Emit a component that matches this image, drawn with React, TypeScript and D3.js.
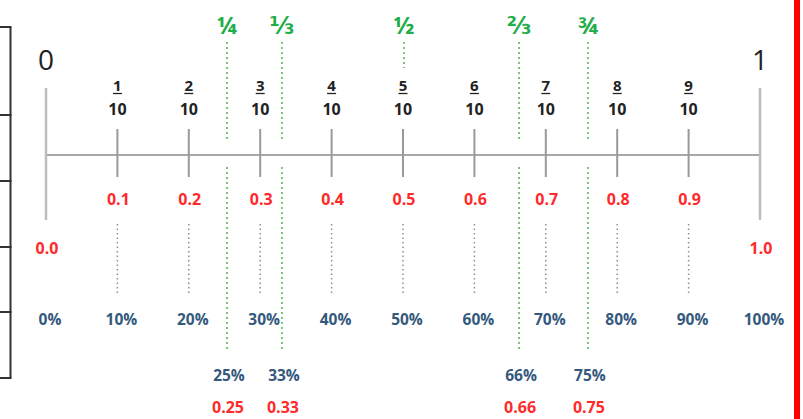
import React from "react";
import * as d3 from "d3";

const WIDTH = 803;
const HEIGHT = 419;

// tenths along the number line
const tenths = [0.1, 0.2, 0.3, 0.4, 0.5, 0.6, 0.7, 0.8, 0.9];
const numerators = ["1", "2", "3", "4", "5", "6", "7", "8", "9"];
const denominator = "10";
// end points
const ends = [0, 1];
const endLabels = ["0", "1"];
// decimal and percent labels for 0..1
const allValues = [0, 0.1, 0.2, 0.3, 0.4, 0.5, 0.6, 0.7, 0.8, 0.9, 1];
const decimalLabels = ["0.0", "0.1", "0.2", "0.3", "0.4", "0.5", "0.6", "0.7", "0.8", "0.9", "1.0"];
const percentLabels = ["0%", "10%", "20%", "30%", "40%", "50%", "60%", "70%", "80%", "90%", "100%"];
// common fractions (positions)
const fractionPositions = [0.2535, 0.3305, 0.5014, 0.6625, 0.759];
const fractionGlyphs = ["¼", "⅓", "½", "⅔", "¾"];
const fractionPercents = ["25%", "33%", "", "66%", "75%"];
const fractionDecimals = ["0.25", "0.33", "", "0.66", "0.75"];
// left table row lines
const tableRows = [27, 115, 181, 247, 312, 378];

const FONT = "'Open Sans', 'DejaVu Sans', sans-serif";

export default function App() {
  const x = d3.scaleLinear().domain([0, 1]).range([46, 760]);
  const axisY = 155;

  return (
    <svg
      width={WIDTH}
      height={HEIGHT}
      style={{ position: "fixed", left: 0, top: 0, background: "#fff" }}
      fontFamily={FONT}
    >
      <rect x={0} y={0} width={WIDTH} height={HEIGHT} fill="#fff" />

      {/* left table edge */}
      <line x1={10.5} x2={10.5} y1={tableRows[0]} y2={tableRows[tableRows.length - 1]} stroke="#333" strokeWidth={2} />
      {tableRows.map((ry, i) => (
        <line key={"tr" + i} x1={0} x2={11.5} y1={ry} y2={ry} stroke="#333" strokeWidth={2} />
      ))}

      {/* right red border */}
      <rect x={794} y={0} width={6} height={HEIGHT} fill="#ff0000" />

      {/* main axis line */}
      <line x1={x(0)} x2={x(1)} y1={axisY} y2={axisY} stroke="#8a8a8a" strokeWidth={1.5} />

      {/* end ticks */}
      {ends.map((v, i) => (
        <g key={"end" + i}>
          <line x1={x(v)} x2={x(v)} y1={88} y2={220} stroke="#bdbdbd" strokeWidth={2.5} />
          <text x={x(v)} y={70} textAnchor="middle" fontSize={28} fill="#222">
            {endLabels[i]}
          </text>
        </g>
      ))}

      {/* tenth ticks and fraction labels */}
      {tenths.map((v, i) => (
        <g key={"t" + i}>
          <line x1={x(v)} x2={x(v)} y1={129} y2={177} stroke="#999" strokeWidth={2} />
          <text x={x(v)} y={91} textAnchor="middle" fontSize={15} fontWeight="bold" fill="#222">
            {numerators[i]}
          </text>
          <line x1={x(v) - 4.5} x2={x(v) + 4.5} y1={93.5} y2={93.5} stroke="#222" strokeWidth={1.3} />
          <text x={x(v)} y={115} textAnchor="middle" fontSize={16} fontWeight="bold" fill="#222">
            {denominator}
          </text>
          <line
            x1={x(v)}
            x2={x(v)}
            y1={224}
            y2={294}
            stroke="#8f8f8f"
            strokeWidth={1.5}
            strokeDasharray="1.5 3"
          />
        </g>
      ))}

      {/* decimal labels */}
      {allValues.map((v, i) => (
        <text
          key={"d" + i}
          x={x(v) + 1}
          y={v === 0 || v === 1 ? 254 : 205}
          textAnchor="middle"
          fontSize={16}
          fontWeight="bold"
          fill="#ff2a2a"
        >
          {decimalLabels[i]}
        </text>
      ))}

      {/* percent labels */}
      {allValues.map((v, i) => (
        <text
          key={"p" + i}
          x={x(v) + 4}
          y={325}
          textAnchor="middle"
          fontSize={15.5}
          fontWeight="bold"
          fill="#34597d"
        >
          {percentLabels[i]}
        </text>
      ))}

      {/* common fractions */}
      {fractionPositions.map((v, i) => (
        <g key={"f" + i}>
          <text x={x(v)} y={34} textAnchor="middle" fontSize={24} fontWeight="bold" fill="#1fae4a">
            {fractionGlyphs[i]}
          </text>
          <line
            x1={x(v)}
            x2={x(v)}
            y1={42}
            y2={fractionPercents[i] === "" ? 68 : 142}
            stroke="#7cc47c"
            strokeWidth={2}
            strokeDasharray="2 3"
          />
          {fractionPercents[i] !== "" && (
            <>
              <line
                x1={x(v)}
                x2={x(v)}
                y1={167}
                y2={352}
                stroke="#7cc47c"
                strokeWidth={2}
                strokeDasharray="2 3"
              />
              <text x={x(v) + 2} y={381} textAnchor="middle" fontSize={15.5} fontWeight="bold" fill="#34597d">
                {fractionPercents[i]}
              </text>
              <text x={x(v) + 1} y={413} textAnchor="middle" fontSize={16} fontWeight="bold" fill="#ff2a2a">
                {fractionDecimals[i]}
              </text>
            </>
          )}
        </g>
      ))}
    </svg>
  );
}
